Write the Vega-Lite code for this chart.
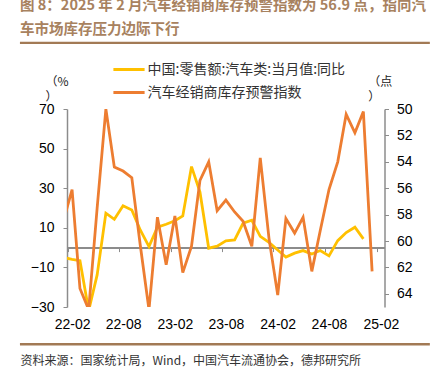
{
  "$schema": "https://vega.github.io/schema/vega-lite/v6.json",
  "width": 317.5,
  "height": 198,
  "autosize": {"type": "none"},
  "padding": {"left": 67, "top": 109, "right": 50.5, "bottom": 78},
  "background": "white",
  "config": {"view": {"stroke": null}, "axis": {"labelFont": "Liberation Sans"}},
  "title": {
    "text": ["图 8：2025 年 2 月汽车经销商库存预警指数为 56.9 点，指向汽", "车市场库存压力边际下行"],
    "anchor": "start",
    "frame": "group",
    "dx": -47,
    "dy": 6,
    "offset": 10,
    "font": "Noto Sans CJK SC",
    "fontSize": 14.5,
    "fontWeight": "bold",
    "color": "#A8825F",
    "lineHeight": 24.3
  },
  "data": {
    "format": {"parse": {"date": "date:'%Y-%m'"}},
    "values": [
      {"date": "2022-01", "series": "中国:零售额:汽车类:当月值:同比", "value": -5.0},
      {"date": "2022-02", "series": "中国:零售额:汽车类:当月值:同比", "value": -5.9},
      {"date": "2022-03", "series": "中国:零售额:汽车类:当月值:同比", "value": -6.6},
      {"date": "2022-04", "series": "中国:零售额:汽车类:当月值:同比", "value": -31.8},
      {"date": "2022-05", "series": "中国:零售额:汽车类:当月值:同比", "value": -13.8},
      {"date": "2022-06", "series": "中国:零售额:汽车类:当月值:同比", "value": 17.4},
      {"date": "2022-07", "series": "中国:零售额:汽车类:当月值:同比", "value": 14.3},
      {"date": "2022-08", "series": "中国:零售额:汽车类:当月值:同比", "value": 21.1},
      {"date": "2022-09", "series": "中国:零售额:汽车类:当月值:同比", "value": 19.0},
      {"date": "2022-10", "series": "中国:零售额:汽车类:当月值:同比", "value": 8.9},
      {"date": "2022-11", "series": "中国:零售额:汽车类:当月值:同比", "value": 0.5},
      {"date": "2022-12", "series": "中国:零售额:汽车类:当月值:同比", "value": 10.3},
      {"date": "2023-01", "series": "中国:零售额:汽车类:当月值:同比", "value": 11.8},
      {"date": "2023-02", "series": "中国:零售额:汽车类:当月值:同比", "value": 13.6},
      {"date": "2023-03", "series": "中国:零售额:汽车类:当月值:同比", "value": 16.0},
      {"date": "2023-04", "series": "中国:零售额:汽车类:当月值:同比", "value": 40.9},
      {"date": "2023-05", "series": "中国:零售额:汽车类:当月值:同比", "value": 28.0},
      {"date": "2023-06", "series": "中国:零售额:汽车类:当月值:同比", "value": -0.3},
      {"date": "2023-07", "series": "中国:零售额:汽车类:当月值:同比", "value": 0.7},
      {"date": "2023-08", "series": "中国:零售额:汽车类:当月值:同比", "value": 3.4},
      {"date": "2023-09", "series": "中国:零售额:汽车类:当月值:同比", "value": 3.9},
      {"date": "2023-10", "series": "中国:零售额:汽车类:当月值:同比", "value": 12.3},
      {"date": "2023-11", "series": "中国:零售额:汽车类:当月值:同比", "value": 13.8},
      {"date": "2023-12", "series": "中国:零售额:汽车类:当月值:同比", "value": 5.7},
      {"date": "2024-01", "series": "中国:零售额:汽车类:当月值:同比", "value": 2.6},
      {"date": "2024-02", "series": "中国:零售额:汽车类:当月值:同比", "value": -1.2},
      {"date": "2024-03", "series": "中国:零售额:汽车类:当月值:同比", "value": -4.8},
      {"date": "2024-04", "series": "中国:零售额:汽车类:当月值:同比", "value": -2.8},
      {"date": "2024-05", "series": "中国:零售额:汽车类:当月值:同比", "value": -1.5},
      {"date": "2024-06", "series": "中国:零售额:汽车类:当月值:同比", "value": -3.2},
      {"date": "2024-07", "series": "中国:零售额:汽车类:当月值:同比", "value": -1.5},
      {"date": "2024-08", "series": "中国:零售额:汽车类:当月值:同比", "value": -4.2},
      {"date": "2024-09", "series": "中国:零售额:汽车类:当月值:同比", "value": 3.5},
      {"date": "2024-10", "series": "中国:零售额:汽车类:当月值:同比", "value": 7.6},
      {"date": "2024-11", "series": "中国:零售额:汽车类:当月值:同比", "value": 10.3},
      {"date": "2024-12", "series": "中国:零售额:汽车类:当月值:同比", "value": 4.4},
      {"date": "2022-01", "series": "汽车经销商库存预警指数", "value": 58.5},
      {"date": "2022-02", "series": "汽车经销商库存预警指数", "value": 56.1},
      {"date": "2022-03", "series": "汽车经销商库存预警指数", "value": 63.6},
      {"date": "2022-04", "series": "汽车经销商库存预警指数", "value": 65.2},
      {"date": "2022-05", "series": "汽车经销商库存预警指数", "value": 57.5},
      {"date": "2022-06", "series": "汽车经销商库存预警指数", "value": 50.0},
      {"date": "2022-07", "series": "汽车经销商库存预警指数", "value": 54.4},
      {"date": "2022-08", "series": "汽车经销商库存预警指数", "value": 54.7},
      {"date": "2022-09", "series": "汽车经销商库存预警指数", "value": 55.2},
      {"date": "2022-10", "series": "汽车经销商库存预警指数", "value": 60.3},
      {"date": "2022-11", "series": "汽车经销商库存预警指数", "value": 65.2},
      {"date": "2022-12", "series": "汽车经销商库存预警指数", "value": 58.2},
      {"date": "2023-01", "series": "汽车经销商库存预警指数", "value": 61.8},
      {"date": "2023-02", "series": "汽车经销商库存预警指数", "value": 58.1},
      {"date": "2023-03", "series": "汽车经销商库存预警指数", "value": 62.4},
      {"date": "2023-04", "series": "汽车经销商库存预警指数", "value": 60.4},
      {"date": "2023-05", "series": "汽车经销商库存预警指数", "value": 55.4},
      {"date": "2023-06", "series": "汽车经销商库存预警指数", "value": 54.0},
      {"date": "2023-07", "series": "汽车经销商库存预警指数", "value": 57.7},
      {"date": "2023-08", "series": "汽车经销商库存预警指数", "value": 56.9},
      {"date": "2023-09", "series": "汽车经销商库存预警指数", "value": 57.8},
      {"date": "2023-10", "series": "汽车经销商库存预警指数", "value": 58.5},
      {"date": "2023-11", "series": "汽车经销商库存预警指数", "value": 60.4},
      {"date": "2023-12", "series": "汽车经销商库存预警指数", "value": 53.7},
      {"date": "2024-01", "series": "汽车经销商库存预警指数", "value": 59.8},
      {"date": "2024-02", "series": "汽车经销商库存预警指数", "value": 64.1},
      {"date": "2024-03", "series": "汽车经销商库存预警指数", "value": 58.3},
      {"date": "2024-04", "series": "汽车经销商库存预警指数", "value": 59.4},
      {"date": "2024-05", "series": "汽车经销商库存预警指数", "value": 58.2},
      {"date": "2024-06", "series": "汽车经销商库存预警指数", "value": 62.3},
      {"date": "2024-07", "series": "汽车经销商库存预警指数", "value": 59.2},
      {"date": "2024-08", "series": "汽车经销商库存预警指数", "value": 56.1},
      {"date": "2024-09", "series": "汽车经销商库存预警指数", "value": 54.0},
      {"date": "2024-10", "series": "汽车经销商库存预警指数", "value": 50.4},
      {"date": "2024-11", "series": "汽车经销商库存预警指数", "value": 51.8},
      {"date": "2024-12", "series": "汽车经销商库存预警指数", "value": 50.2},
      {"date": "2025-01", "series": "汽车经销商库存预警指数", "value": 62.3}
    ]
  },
  "layer": [
    {
      "transform": [{"filter": "datum.series === '中国:零售额:汽车类:当月值:同比'"}],
      "mark": {"type": "line", "strokeWidth": 2.8, "clip": true},
      "encoding": {
        "x": {
          "field": "date", "type": "temporal",
          "scale": {"domain": [{"year": 2022, "month": 1, "date": 14}, {"year": 2025, "month": 2, "date": 14}]},
          "axis": {
            "values": [
              {"year": 2022, "month": 2, "date": 1}, {"year": 2022, "month": 8, "date": 1},
              {"year": 2023, "month": 2, "date": 1}, {"year": 2023, "month": 8, "date": 1},
              {"year": 2024, "month": 2, "date": 1}, {"year": 2024, "month": 8, "date": 1},
              {"year": 2025, "month": 2, "date": 1}
            ],
            "format": "%y-%m",
            "offset": -59.4,
            "tickOffset": -4.3,
            "labelOffset": 4.3,
            "tickSize": 4,
            "tickColor": "#8c8c8c",
            "domainColor": "#8c8c8c",
            "domainWidth": 2,
            "labelPadding": 66,
            "labelBaseline": "top",
            "labelFontSize": 14,
            "labelColor": "#000000",
            "grid": false,
            "labelOverlap": false,
            "labelFlush": false,
            "title": "资料来源：国家统计局，Wind，中国汽车流通协会，德邦研究所",
            "titleX": -47,
            "titleY": 112.4,
            "titleAlign": "left",
            "titleAnchor": "start",
            "titleBaseline": "middle",
            "titleFont": "Noto Sans CJK SC",
            "titleFontSize": 12,
            "titleFontWeight": "normal",
            "titleColor": "#333333"
          }
        },
        "y": {
          "field": "value", "type": "quantitative",
          "scale": {"domain": [-30, 70], "nice": false, "zero": false},
          "axis": {
            "values": [-30, -10, 10, 30, 50, 70],
            "grid": false,
            "labelOverlap": false,
            "labelFlush": false,
            "domainColor": "#8c8c8c",
            "domainWidth": 1.5,
            "tickColor": "#8c8c8c",
            "tickSize": 4,
            "labelPadding": 9,
            "labelFontSize": 14,
            "labelColor": "#000000",
            "title": ["（%", "）"],
            "titleAngle": 0,
            "titleX": -22,
            "titleY": -33,
            "titleAlign": "left",
            "titleBaseline": "top",
            "titleFont": "Noto Sans CJK SC",
            "titleFontSize": 12,
            "titleFontWeight": "normal",
            "titleColor": "#222222",
            "titleLineHeight": 15
          }
        },
        "color": {
          "field": "series", "type": "nominal",
          "scale": {"domain": ["中国:零售额:汽车类:当月值:同比", "汽车经销商库存预警指数"], "range": ["#FFC000", "#ED7D31"]},
          "legend": {
            "orient": "none",
            "legendX": 54.5,
            "legendY": -47,
            "title": null,
            "padding": 0,
            "symbolType": "M-2.6,0H2.6",
            "symbolSize": 144,
            "symbolStrokeWidth": 3,
            "labelFont": "Noto Sans CJK SC",
            "labelFontSize": 14,
            "labelColor": "#333333",
            "labelOffset": 11,
            "labelLimit": 400,
            "rowPadding": 8
          }
        }
      }
    },
    {
      "transform": [{"filter": "datum.series === '汽车经销商库存预警指数'"}],
      "mark": {"type": "line", "strokeWidth": 2.8, "clip": true},
      "encoding": {
        "x": {"field": "date", "type": "temporal"},
        "y": {
          "field": "value", "type": "quantitative",
          "scale": {"domain": [50, 65], "reverse": true, "nice": false, "zero": false},
          "axis": {
            "orient": "right",
            "values": [50, 52, 54, 56, 58, 60, 62, 64],
            "grid": false,
            "labelOverlap": false,
            "labelFlush": false,
            "domainColor": "#8c8c8c",
            "domainWidth": 1.5,
            "tickColor": "#8c8c8c",
            "tickSize": 4,
            "labelPadding": 8,
            "labelFontSize": 14,
            "labelColor": "#000000",
            "title": ["（点", "）"],
            "titleAngle": 0,
            "titleX": -16.8,
            "titleY": -33,
            "titleAlign": "left",
            "titleBaseline": "top",
            "titleFont": "Noto Sans CJK SC",
            "titleFontSize": 12,
            "titleFontWeight": "normal",
            "titleColor": "#222222",
            "titleLineHeight": 15
          }
        },
        "color": {"field": "series", "type": "nominal"}
      }
    },
    {
      "data": {"values": [{"edge": "under title"}]},
      "mark": {"type": "rect", "color": "#A27A55"},
      "encoding": {
        "x": {"datum": {"year": 2021, "month": 7, "date": 31}, "type": "temporal"},
        "x2": {"datum": {"year": 2025, "month": 7, "date": 25}},
        "y": {"datum": 104.0, "type": "quantitative", "scale": {"domain": [-30, 70], "nice": false, "zero": false}, "axis": null},
        "y2": {"datum": 102.8}
      }
    },
    {
      "data": {"values": [{"edge": "over source"}]},
      "mark": {"type": "rect", "color": "#A27A55"},
      "encoding": {
        "x": {"datum": {"year": 2021, "month": 7, "date": 31}, "type": "temporal"},
        "x2": {"datum": {"year": 2025, "month": 7, "date": 25}},
        "y": {"datum": -48.2, "type": "quantitative", "scale": {"domain": [-30, 70], "nice": false, "zero": false}, "axis": null},
        "y2": {"datum": -49.4}
      }
    }
  ],
  "resolve": {"scale": {"y": "independent"}}
}
